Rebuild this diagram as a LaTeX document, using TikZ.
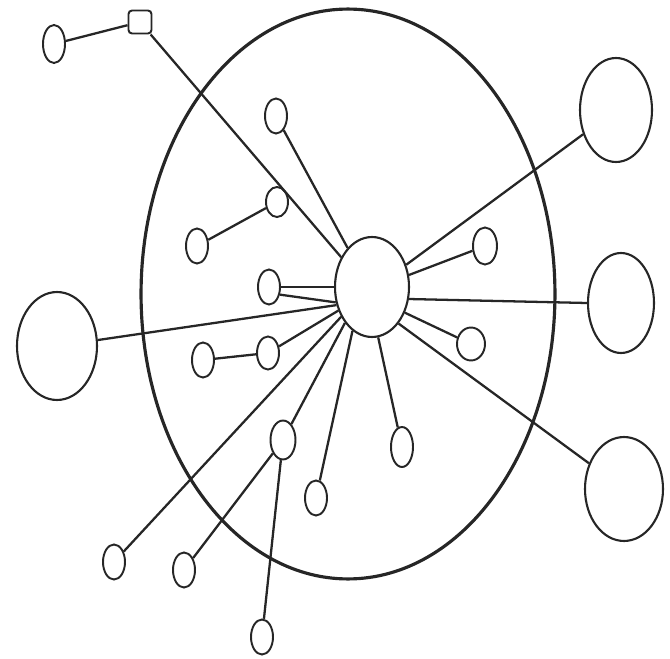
\documentclass[tikz,border=0pt]{standalone}
\usepackage{tikz}
\usetikzlibrary{shapes.geometric}

\begin{document}
\begin{tikzpicture}[x=0.02cm, y=-0.02cm, line width=1.3pt, color=black!85,
                leaf/.style={ellipse, draw, line width=1.1pt, inner sep=0pt, minimum width=0.44cm, minimum height=0.7cm},
                peer/.style={ellipse, draw, line width=1.2pt, inner sep=0pt, minimum width=1.44cm, minimum height=2.08cm},
                core/.style={ellipse, draw, line width=1.2pt, inner sep=0pt, minimum width=1.48cm, minimum height=2cm},
                sqr/.style={rectangle, draw, rounded corners=2pt, line width=1.1pt, minimum size=0.46cm}]

                \useasboundingbox (0,0) rectangle (670,659);
                \draw[line width=1.8pt] (348,294) ellipse [x radius=4.14cm, y radius=5.7cm];

                \node[core] (hub) at (372,287) {};

                \node[peer, minimum width=1.6cm, minimum height=2.16cm] (west) at (57,346) {};
                \node[peer] (ne) at (616,110) {};
                \node[peer, minimum width=1.32cm, minimum height=2cm] (east) at (621,303) {};
                \node[peer, minimum width=1.56cm] (se) at (624,489) {};

                \node[leaf, minimum height=0.76cm] (o1) at (54,44) {};
                \node[sqr] (box) at (140,22) {};
                \node[leaf] (o3) at (276,116) {};
                \node[leaf, minimum height=0.6cm] (o4) at (277,202) {};
                \node[leaf] (o5) at (197,246) {};
                \node[leaf] (o6) at (269,287) {};
                \node[leaf] (o7) at (203,360) {};
                \node[leaf, minimum height=0.66cm] (o8) at (268,353) {};
                \node[leaf] (o9) at (114,562) {};
                \node[leaf] (o10) at (184,570) {};
                \node[leaf, minimum width=0.5cm, minimum height=0.78cm] (o11) at (283,440) {};
                \node[leaf] (o12) at (262,637) {};
                \node[leaf] (o13) at (316,498) {};
                \node[leaf, minimum height=0.8cm] (o14) at (402,447) {};
                \node[leaf, minimum width=0.56cm, minimum height=0.66cm] (o15) at (471,344) {};
                \node[leaf, minimum width=0.48cm, minimum height=0.74cm] (o16) at (485,246) {};

                \draw (o1) -- (box);
                \draw (box) -- (hub.136);
                \draw (o3) -- (hub.122);
                \draw (o5) -- (o4);
                \draw (o6.east) -- (hub.180);
                \draw (o6.-35) -- (hub.203);
                \draw (west) -- (hub.207);
                \draw (o7) -- (o8);
                \draw (o8) -- (hub.215);
                \draw (o9) -- (hub.224);
                \draw (hub.233) -- (o11) -- (o10);
                \draw (o11) -- (o12);
                \draw (o13) -- (hub.246);
                \draw (o14) -- (hub.277);
                \draw (se) -- (hub.306);
                \draw (o15) -- (hub.322);
                \draw (east.west) -- (hub.342);
                \draw (o16) -- (hub.18);
                \draw (ne) -- (hub.33);
            \end{tikzpicture}
\end{document}
